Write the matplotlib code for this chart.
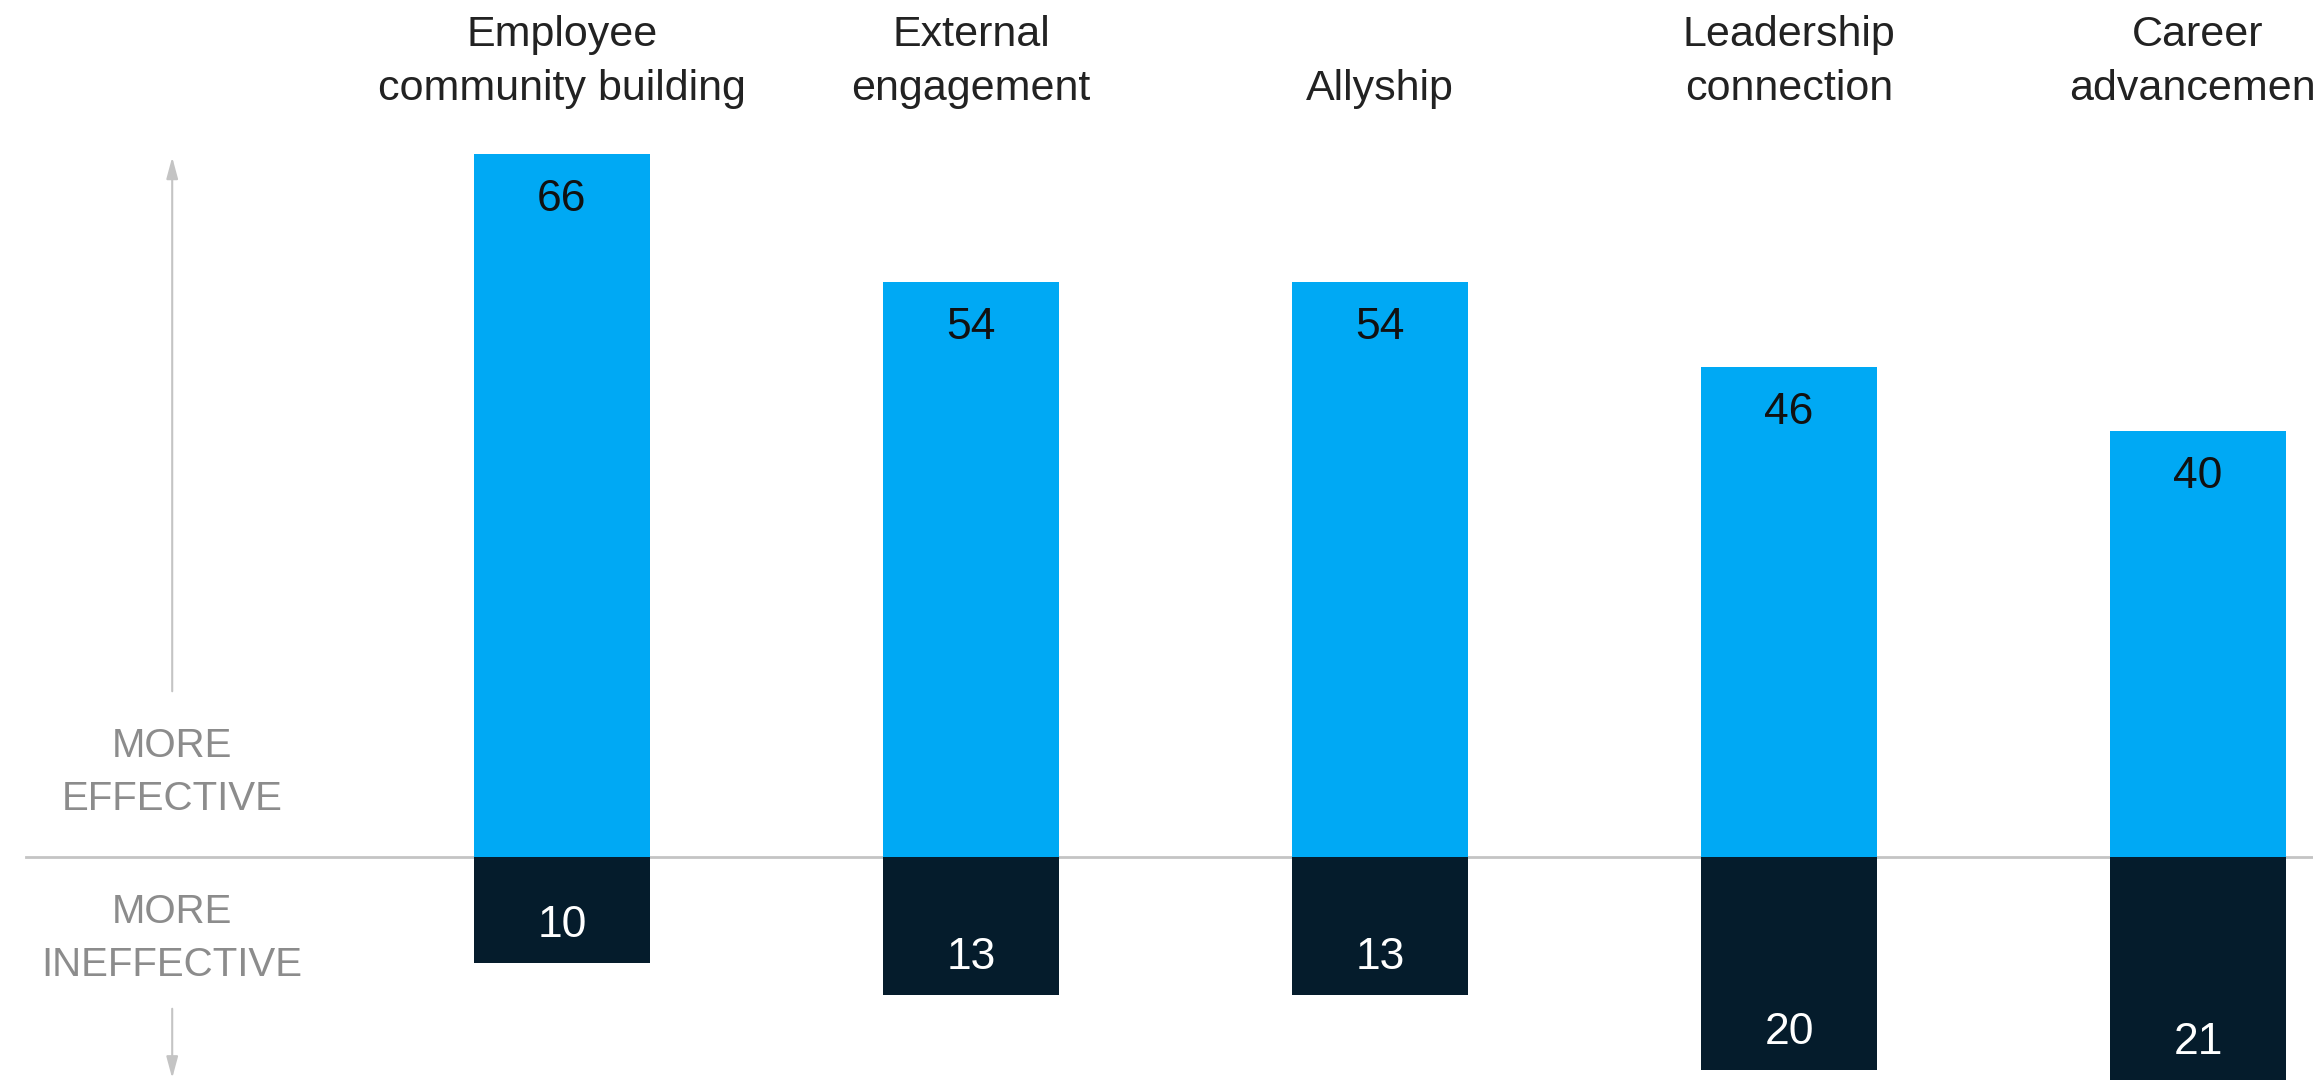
import numpy as np
import matplotlib.pyplot as plt

plt.rcParams['font.family'] = ['Liberation Sans', 'DejaVu Sans']

categories = ["Employee\ncommunity building", "External\nengagement", "Allyship",
              "Leadership\nconnection", "Career\nadvancement"]
more_effective = [66, 54, 54, 46, 40]
more_ineffective = [10, 13, 13, 20, 21]

BLUE = '#00A9F4'
NAVY = '#051C2C'
GREY_LINE = '#c4c4c4'
GREY_TEXT = '#8c8c8c'

fig = plt.figure(figsize=(23.13, 10.81), dpi=100)
ax = fig.add_axes([0, 0, 1, 1])
ax.set_axis_off()

x = np.arange(len(categories))
width = 0.43
ax.set_xlim(-1.374, 4.281)
ax.set_ylim(-21.05, 80.5)

ax.bar(x, more_effective, width, color=BLUE, zorder=2)
ax.bar(x, [-v for v in more_ineffective], width, color=NAVY, zorder=2)

# baseline
ax.plot([-1.31, 4.281], [0, 0], color=GREY_LINE, lw=2, zorder=1)

for i, v in enumerate(more_effective):
    ax.annotate(str(v), (x[i], v), xytext=(0, -32.5), textcoords='offset points',
                ha='center', va='center', fontsize=32, color='#111111')
for i, v in enumerate(more_ineffective):
    ax.annotate(str(v), (x[i], -v), xytext=(0, 27), textcoords='offset points',
                ha='center', va='center', fontsize=32, color='white')

# category labels on top
for i, c in enumerate(categories):
    lines = c.split('\n')
    if len(lines) == 1:
        lines = ['', lines[0]]
    ax.text(x[i], 80.5 - 3.3, lines[0], ha='center', va='center', fontsize=31, color='#222222')
    ax.text(x[i], 80.5 - 8.35, lines[1], ha='center', va='center', fontsize=31, color='#222222')

# side arrows
ax_x = -0.953
ax.annotate('', xy=(ax_x, 66), xytext=(ax_x, 15.3),
            arrowprops=dict(arrowstyle='-|>,head_length=1.3,head_width=0.35',
                            color=GREY_LINE, lw=1.5))
ax.annotate('', xy=(ax_x, -21.05), xytext=(ax_x, -14),
            arrowprops=dict(arrowstyle='-|>,head_length=1.3,head_width=0.35',
                            color=GREY_LINE, lw=1.5))

ax.text(ax_x, 7.9, "MORE\nEFFECTIVE", ha='center', va='center', fontsize=29,
        color=GREY_TEXT, linespacing=1.5)
ax.text(ax_x, -7.7, "MORE\nINEFFECTIVE", ha='center', va='center', fontsize=29,
        color=GREY_TEXT, linespacing=1.5)

fig.savefig('out.png', dpi=100)
